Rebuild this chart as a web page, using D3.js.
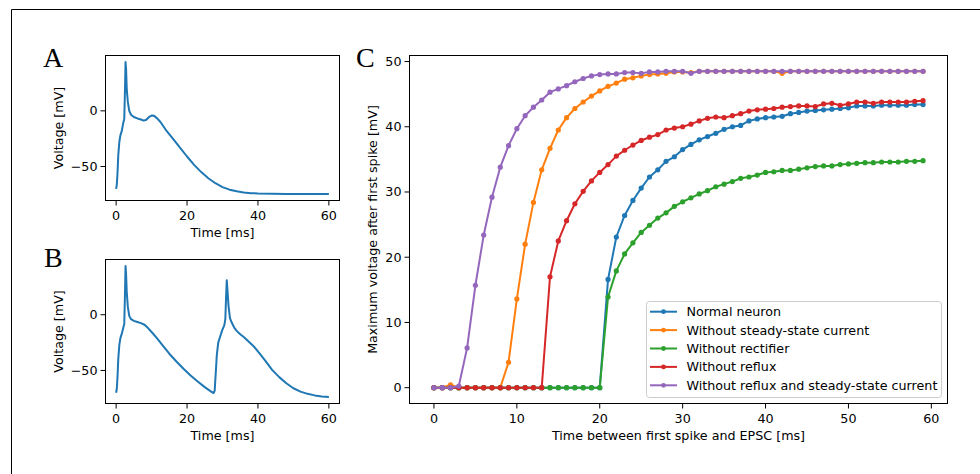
<!DOCTYPE html>
<html>
<head>
<meta charset="utf-8">
<script src="https://cdn.jsdelivr.net/npm/d3@7"></script>
<style>
  html, body { margin: 0; padding: 0; background: #fff; }
  svg { display: block; }
  text { font-family: "DejaVu Sans", sans-serif; fill: #000; }
  .panel { font-family: "Liberation Serif", "DejaVu Serif", serif; }
</style>
</head>
<body>
<svg id="chart" width="980" height="474"></svg>
<script>
// ---------- Data ----------
// Panel A: single-spike voltage trace
const tA = [0, 0.2, 0.4, 0.6, 0.9, 1.2, 1.6, 2.0, 2.3, 2.5, 2.65, 2.8, 3.0, 3.3, 3.7, 4.2, 5, 6, 7, 7.8,
            8.5, 9.3, 10, 10.7, 11.5, 12.5, 14, 16, 18, 20, 22, 24, 26, 28, 30, 32, 34, 36, 38, 40,
            44, 48, 52, 56, 60];
const vA = [-70, -66, -55, -40, -28, -22, -18, -11, -7, 20, 43.8, 38, 19, 8, 0, -3.5, -5.5, -6.8, -7.8, -8.8,
            -8, -5.5, -4.2, -4.5, -6.5, -10, -17, -25, -33, -41, -48.5, -55, -60.5, -65, -68.5, -70.8, -72.3, -73.3, -73.9, -74.2,
            -74.5, -74.6, -74.6, -74.6, -74.6];
// Panel B: two-spike voltage trace
const tB = [0, 0.2, 0.4, 0.6, 0.9, 1.2, 1.6, 2.0, 2.3, 2.5, 2.65, 2.8, 3.0, 3.3, 3.7, 4.2, 5, 6, 7, 8,
            9, 10, 11.5, 13, 15, 17, 19, 21, 23, 25, 26.5, 27.5, 27.8, 28.1, 28.4, 28.8, 29.3, 29.9, 30.5, 30.8,
            31.0, 31.2, 31.4, 31.7, 32.1, 32.6, 33.3, 34, 35, 36, 37.5, 39, 40.5, 42, 44, 46, 48, 50, 52, 54,
            56, 58, 60];
const vB = [-70, -66, -55, -40, -27, -21, -17, -12, -8, 20, 43.7, 37, 20, 7, -1, -4, -5.5, -6.5, -7.5, -9,
            -12, -15.5, -21, -27, -35, -42, -48.5, -54.5, -60, -65, -68.3, -70.3, -68, -52, -36, -25, -20, -14, -9.5, -4,
            15, 31, 22, 8, -3, -7, -11.5, -14.5, -17.5, -20, -24.5, -29, -35, -41, -49.5, -56, -61.5, -66, -69, -71,
            -72.4, -73.3, -73.8];

// Panel C: maximum voltage after first spike vs. delay
const delays = d3.range(0, 60);
const seriesNames = ["Normal neuron", "Without steady-state current", "Without rectifier",
                     "Without reflux", "Without reflux and steady-state current"];
const normalNeuron = [0,0,0,0,0,0,0,0,0,0, 0,0,0,0,0,0,0,0,0,0,
  0, 16.6, 23.1, 26.4, 28.7, 30.6, 32.3, 33.4, 34.7, 35.4,
  36.5, 37.3, 38.0, 38.5, 39.0, 39.6, 40.0, 40.2, 40.9, 41.2,
  41.4, 41.5, 41.6, 42.0, 42.2, 42.4, 42.5, 42.6, 42.7, 42.8,
  42.9, 43.2, 43.2, 43.2, 43.3, 43.3, 43.3, 43.3, 43.4, 43.4];
const noSteadyState = [0, 0, 0.45, 0, 0, 0, 0, 0, 0, 3.9,
  13.6, 22.0, 28.4, 33.4, 36.7, 39.5, 41.4, 42.8, 43.8, 44.7,
  45.5, 46.2, 46.7, 47.3, 47.5, 47.8, 48.0, 48.1, 48.2, 48.4,
  48.4, 48.3, 48.5, 48.5, 48.5, 48.5, 48.5, 48.5, 48.5, 48.5,
  48.5, 48.5, 48.2, 48.5, 48.5, 48.5, 48.5, 48.5, 48.5, 48.5,
  48.5, 48.5, 48.5, 48.5, 48.5, 48.5, 48.5, 48.5, 48.5, 48.5];
const noRectifier = [0,0,0,0,0,0,0,0,0,0, 0,0,0,0,0,0,0,0,0,0,
  0, 13.9, 17.9, 20.5, 22.2, 23.8, 24.9, 26.0, 26.8, 27.8,
  28.5, 29.1, 29.7, 30.2, 30.8, 31.2, 31.6, 32.1, 32.3, 32.6,
  33.0, 33.1, 33.3, 33.3, 33.5, 33.7, 33.9, 34.0, 34.0, 34.2,
  34.3, 34.4, 34.5, 34.5, 34.6, 34.6, 34.6, 34.7, 34.7, 34.8];
const noReflux = [0,0,0,0,0,0,0,0,0,0, 0,0,0,0,
  17.0, 22.5, 25.6, 28.2, 30.1, 31.7,
  33.0, 34.2, 35.5, 36.4, 37.2, 37.9, 38.4, 38.8, 39.5, 39.8,
  40.0, 40.4, 40.9, 41.3, 41.5, 41.4, 41.7, 42.0, 42.4, 42.6,
  42.7, 42.8, 43.0, 43.1, 43.2, 43.2, 43.1, 43.5, 43.6, 43.3,
  43.5, 43.8, 43.8, 43.6, 43.8, 43.8, 43.8, 43.8, 43.9, 44.0];
const noRefluxSteady = [0, 0, 0, 0.25, 6.1, 15.7, 23.4, 29.2, 33.8, 37.1,
  39.7, 41.7, 43.0, 44.1, 45.3, 45.8, 46.3, 46.9, 47.4, 47.8,
  48.0, 48.1, 48.1, 48.3, 48.3, 48.2, 48.4, 48.4, 48.5, 48.5,
  48.5, 48.2, 48.5, 48.5, 48.5, 48.5, 48.5, 48.5, 48.5, 48.5,
  48.5, 48.5, 48.5, 48.5, 48.5, 48.5, 48.5, 48.5, 48.5, 48.5,
  48.5, 48.5, 48.5, 48.5, 48.5, 48.5, 48.5, 48.5, 48.5, 48.5];
const seriesValues = [normalNeuron, noSteadyState, noRectifier, noReflux, noRefluxSteady];
const colors = ["#1f77b4", "#ff7f0e", "#2ca02c", "#d62728", "#9467bd"];

const traceXTicks = [0, 20, 40, 60];
const traceYTicks = [-50, 0];
const cXTicks = [0, 10, 20, 30, 40, 50, 60];
const cYTicks = [0, 10, 20, 30, 40, 50];

// ---------- Drawing ----------
const svg = d3.select("#chart");
const FS = 12.7;
const fmt = d => (d < 0 ? "\u2212" + Math.abs(d) : String(d));

// outer frame
svg.append("line").attr("x1", 11.5).attr("y1", 9.5).attr("x2", 980).attr("y2", 9.5)
  .attr("stroke", "#000").attr("stroke-width", 1);
svg.append("line").attr("x1", 11.5).attr("y1", 9.5).attr("x2", 11.5).attr("y2", 474)
  .attr("stroke", "#000").attr("stroke-width", 1);

function pad(ext) { const r = ext[1] - ext[0]; return [ext[0] - 0.05 * r, ext[1] + 0.05 * r]; }

function axesFrame(g, box, x, y, xticks, yticks, xlabel, ylabel, ylabelX) {
  const ax = g.append("g");
  xticks.forEach(t => {
    const px = x(t);
    ax.append("line").attr("x1", px).attr("x2", px).attr("y1", box.b).attr("y2", box.b + 5)
      .attr("stroke", "#000").attr("stroke-width", 1);
    ax.append("text").attr("x", px).attr("y", box.b + 19).attr("text-anchor", "middle")
      .attr("font-size", FS).text(fmt(t));
  });
  yticks.forEach(t => {
    const py = y(t);
    ax.append("line").attr("x1", box.l - 5).attr("x2", box.l).attr("y1", py).attr("y2", py)
      .attr("stroke", "#000").attr("stroke-width", 1);
    ax.append("text").attr("x", box.l - 8).attr("y", py + 4.5).attr("text-anchor", "end")
      .attr("font-size", FS).text(fmt(t));
  });
  ax.append("text").attr("x", (box.l + box.r) / 2).attr("y", box.b + 36)
    .attr("text-anchor", "middle").attr("font-size", FS).text(xlabel);
  ax.append("text").attr("transform", `translate(${ylabelX},${(box.t + box.b) / 2}) rotate(-90)`)
    .attr("text-anchor", "middle").attr("font-size", FS).text(ylabel);
  return ax;
}

function spines(g, box) {
  g.append("rect").attr("x", box.l).attr("y", box.t).attr("width", box.r - box.l).attr("height", box.b - box.t)
    .attr("fill", "none").attr("stroke", "#000").attr("stroke-width", 1);
}

function tracePanel(box, t, v, letter, letterX, letterY) {
  const g = svg.append("g");
  const x = d3.scaleLinear().domain(pad([0, 60])).range([box.l, box.r]);
  const y = d3.scaleLinear().domain(pad(d3.extent(v))).range([box.b, box.t]);
  const line = d3.line().x(d => x(d[0])).y(d => y(d[1]));
  g.append("path").datum(t.map((d, i) => [d, v[i]])).attr("d", line)
    .attr("fill", "none").attr("stroke", "#1f77b4").attr("stroke-width", 2).attr("stroke-linejoin", "round");
  spines(g, box);
  axesFrame(g, box, x, y, traceXTicks, traceYTicks, "Time [ms]", "Voltage [mV]", 62.5);
  svg.append("text").attr("class", "panel").attr("x", letterX).attr("y", letterY)
    .attr("font-size", 28).text(letter);
}

tracePanel({ l: 105.5, r: 339.5, t: 55.5, b: 200.5 }, tA, vA, "A", 43, 66.5);
tracePanel({ l: 105.5, r: 339.5, t: 259.5, b: 403.5 }, tB, vB, "B", 44, 267);

// Panel C
(function () {
  const box = { l: 409.5, r: 947.5, t: 55.5, b: 403.5 };
  const g = svg.append("g");
  const x = d3.scaleLinear().domain(pad([0, 59])).range([box.l, box.r]);
  const allV = seriesValues.flat();
  const y = d3.scaleLinear().domain(pad(d3.extent(allV))).range([box.b, box.t]);
  const line = d3.line().x(d => x(d[0])).y(d => y(d[1]));
  seriesValues.forEach((vals, k) => {
    const pts = delays.map((d, i) => [d, vals[i]]);
    const sg = g.append("g");
    sg.append("path").datum(pts).attr("d", line).attr("fill", "none")
      .attr("stroke", colors[k]).attr("stroke-width", 2).attr("stroke-linejoin", "round");
    sg.selectAll("circle").data(pts).join("circle")
      .attr("cx", d => x(d[0])).attr("cy", d => y(d[1])).attr("r", 2.6).attr("fill", colors[k]);
  });
  spines(g, box);
  axesFrame(g, box, x, y, cXTicks, cYTicks, "Time between first spike and EPSC [ms]",
    "Maximum voltage after first spike [mV]", 376.5);
  svg.append("text").attr("class", "panel").attr("x", 356).attr("y", 66.5)
    .attr("font-size", 28).text("C");

  // legend
  const lg = svg.append("g");
  lg.append("rect").attr("x", 646.5).attr("y", 301.5).attr("width", 295).attr("height", 96).attr("rx", 3)
    .attr("fill", "#fff").attr("fill-opacity", 0.8).attr("stroke", "#cccccc").attr("stroke-width", 1);
  seriesNames.forEach((name, k) => {
    const cy = 311.7 + k * 18.4;
    lg.append("line").attr("x1", 650).attr("x2", 677).attr("y1", cy).attr("y2", cy)
      .attr("stroke", colors[k]).attr("stroke-width", 2);
    lg.append("circle").attr("cx", 663.5).attr("cy", cy).attr("r", 2.4).attr("fill", colors[k]);
    lg.append("text").attr("x", 686.5).attr("y", cy + 4.5).attr("font-size", FS).text(name);
  });
})();
</script>
</body>
</html>
